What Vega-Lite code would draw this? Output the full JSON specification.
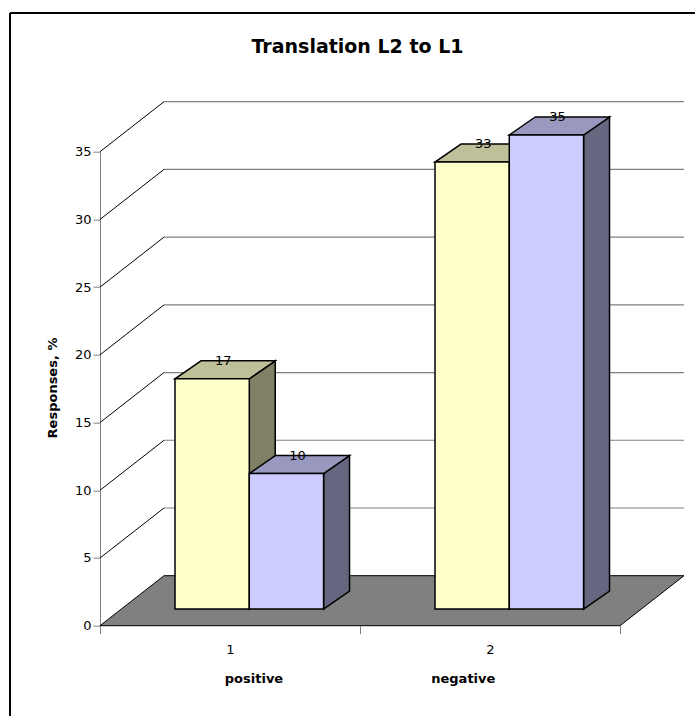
{
  "$schema": "https://vega.github.io/schema/vega-lite/v6.json",
  "width": 520,
  "height": 474,
  "autosize": {"type": "none"},
  "padding": {"left": 100, "top": 151.7, "right": 75, "bottom": 90.3},
  "background": "white",
  "config": {
    "view": {"stroke": null},
    "font": "DejaVu Sans",
    "axis": {"labelFont": "DejaVu Sans", "titleFont": "DejaVu Sans", "labelColor": "black", "titleColor": "black"}
  },
  "datasets": {
    "responses": [
      {"category": 1, "series": "Series1", "value": 17},
      {"category": 1, "series": "Series2", "value": 10},
      {"category": 2, "series": "Series1", "value": 33},
      {"category": 2, "series": "Series2", "value": 35}
    ],
    "yticks": [
      {"tick": 5}, {"tick": 10}, {"tick": 15}, {"tick": 20},
      {"tick": 25}, {"tick": 30}, {"tick": 35}
    ],
    "floor": [{"edge": "front"}, {"edge": "back"}]
  },
  "layer": [
    {
      "data": {"name": "floor"},
      "transform": [
        {"calculate": "datum.edge == 'front' ? 0 : 1", "as": "k"},
        {"calculate": "datum.k * 3.692", "as": "fy"},
        {"calculate": "0.5 + datum.k * 0.2462", "as": "fx"},
        {"calculate": "2.5 + datum.k * 0.2462", "as": "fx2"}
      ],
      "mark": {"type": "area", "orient": "horizontal", "fill": "#808080", "stroke": "black", "strokeWidth": 1},
      "encoding": {
        "y": {
          "field": "fy",
          "type": "quantitative",
          "scale": {"domain": [0, 35], "nice": false, "zero": false},
          "axis": {
            "values": [0, 5, 10, 15, 20, 25, 30, 35],
            "format": "d",
            "domain": true,
            "domainColor": "#808080",
            "domainWidth": 1,
            "grid": false,
            "tickSize": 7,
            "tickColor": "#808080",
            "tickWidth": 1,
            "labelFontSize": 13,
            "labelPadding": 2,
            "labelOverlap": false,
            "labelFlush": false,
            "title": "Responses, %",
            "titleFontSize": 13,
            "titleFontWeight": "bold",
            "titleAngle": 270,
            "titleX": -44,
            "titleY": 235.8,
            "titleAlign": "center",
            "titleBaseline": "alphabetic"
          }
        },
        "x": {
          "field": "fx",
          "type": "quantitative",
          "scale": {"domain": [0.5, 2.5], "nice": false, "zero": false},
          "axis": {
            "values": [0.5, 1, 1.5, 2, 2.5],
            "labelExpr": "datum.value == 1 ? '1' : (datum.value == 2 ? '2' : '')",
            "tickOpacity": {"condition": {"test": "datum.value == 1 || datum.value == 2", "value": 0}, "value": 1},
            "domain": false,
            "grid": false,
            "tickSize": 8,
            "tickColor": "#808080",
            "tickWidth": 1,
            "labelFontSize": 13,
            "labelPadding": 10,
            "labelOverlap": false,
            "labelFlush": false,
            "title": null
          }
        },
        "x2": {"field": "fx2"}
      }
    },
    {
      "data": {"name": "yticks"},
      "transform": [{"calculate": "datum.tick + 3.692", "as": "ty"}],
      "layer": [
        {
          "mark": {"type": "rule", "color": "black", "strokeWidth": 1},
          "encoding": {
            "x": {"datum": 0.5, "type": "quantitative"},
            "x2": {"datum": 0.7462},
            "y": {"field": "tick", "type": "quantitative"},
            "y2": {"field": "ty"}
          }
        },
        {
          "mark": {"type": "rule", "color": "#808080", "strokeWidth": 1.2},
          "encoding": {
            "x": {"datum": 0.7462, "type": "quantitative"},
            "x2": {"datum": 2.7462},
            "y": {"field": "ty", "type": "quantitative"}
          }
        }
      ]
    },
    {
      "data": {"values": [{}]},
      "layer": [
        {
          "mark": {"type": "rule", "color": "black", "strokeWidth": 2},
          "encoding": {
            "x": {"datum": 0.15385, "type": "quantitative"},
            "y": {"datum": -6.667, "type": "quantitative"},
            "y2": {"datum": 45.242}
          }
        },
        {
          "mark": {"type": "rule", "color": "black", "strokeWidth": 2},
          "encoding": {
            "x": {"datum": 0.15385, "type": "quantitative"},
            "x2": {"datum": 2.78846},
            "y": {"datum": 45.242, "type": "quantitative"}
          }
        },
        {
          "mark": {"type": "text", "text": "Translation L2 to L1", "fontWeight": "bold", "fontSize": 19, "color": "black", "align": "center", "baseline": "alphabetic"},
          "encoding": {
            "x": {"datum": 1.4904, "type": "quantitative"},
            "y": {"datum": 42.31, "type": "quantitative"}
          }
        },
        {
          "mark": {"type": "text", "text": "positive", "fontWeight": "bold", "fontSize": 13, "color": "black", "align": "center", "baseline": "alphabetic"},
          "encoding": {
            "x": {"datum": 1.0923, "type": "quantitative"},
            "y": {"datum": -4.231, "type": "quantitative"}
          }
        },
        {
          "mark": {"type": "text", "text": "negative", "fontWeight": "bold", "fontSize": 13, "color": "black", "align": "center", "baseline": "alphabetic"},
          "encoding": {
            "x": {"datum": 1.8973, "type": "quantitative"},
            "y": {"datum": -4.231, "type": "quantitative"}
          }
        }
      ]
    },
    {
      "data": {"name": "responses"},
      "transform": [
        {"calculate": "datum.category - 0.2857 + (datum.series == 'Series1' ? 0 : 0.2857)", "as": "left"},
        {"calculate": "datum.left + 0.2857", "as": "right"}
      ],
      "layer": [
        {
          "transform": [
            {"calculate": "[0, 1]", "as": "k"},
            {"flatten": ["k"]},
            {"calculate": "datum.k == 0 ? 0.0742 : 0.174", "as": "dx"},
            {"calculate": "datum.k == 0 ? 1.233 : 2.562", "as": "dy"},
            {"calculate": "datum.right + datum.dx", "as": "sx"},
            {"calculate": "datum.value + datum.dy", "as": "sy"}
          ],
          "mark": {"type": "area", "orient": "vertical", "stroke": "black", "strokeWidth": 1.5, "strokeJoin": "miter"},
          "encoding": {
            "x": {"field": "sx", "type": "quantitative"},
            "y": {"field": "sy", "type": "quantitative"},
            "y2": {"field": "dy"},
            "detail": [{"field": "category"}, {"field": "series"}],
            "fill": {"condition": {"test": "datum.series == 'Series1'", "value": "#808066"}, "value": "#666680"}
          }
        },
        {
          "transform": [
            {"calculate": "[0, 1]", "as": "k"},
            {"flatten": ["k"]},
            {"calculate": "datum.k == 0 ? 0.0742 : 0.174", "as": "dx"},
            {"calculate": "datum.k == 0 ? 1.233 : 2.562", "as": "dy"},
            {"calculate": "datum.left + datum.dx", "as": "tx"},
            {"calculate": "datum.right + datum.dx", "as": "tx2"},
            {"calculate": "datum.value + datum.dy", "as": "ty"}
          ],
          "mark": {"type": "area", "orient": "horizontal", "stroke": "black", "strokeWidth": 1.5, "strokeJoin": "miter"},
          "encoding": {
            "y": {"field": "ty", "type": "quantitative"},
            "x": {"field": "tx", "type": "quantitative"},
            "x2": {"field": "tx2"},
            "detail": [{"field": "category"}, {"field": "series"}],
            "fill": {"condition": {"test": "datum.series == 'Series1'", "value": "#BFBF99"}, "value": "#9999BF"}
          }
        },
        {
          "transform": [
            {"calculate": "datum.left + 0.0742", "as": "fl"},
            {"calculate": "datum.right + 0.0742", "as": "fr"},
            {"calculate": "datum.value + 1.233", "as": "ftop"},
            {"calculate": "1.233", "as": "fbot"}
          ],
          "mark": {"type": "rect", "stroke": "black", "strokeWidth": 1.5, "strokeJoin": "miter"},
          "encoding": {
            "x": {"field": "fl", "type": "quantitative"},
            "x2": {"field": "fr"},
            "y": {"field": "ftop", "type": "quantitative"},
            "y2": {"field": "fbot"},
            "fill": {"condition": {"test": "datum.series == 'Series1'", "value": "#FFFFCC"}, "value": "#CCCCFF"}
          }
        },
        {
          "transform": [
            {"calculate": "(datum.left + datum.right) / 2 + 0.1165", "as": "lx"},
            {"calculate": "datum.value + 2.562", "as": "ly"}
          ],
          "mark": {"type": "text", "fontSize": 13, "color": "black", "align": "center", "baseline": "middle"},
          "encoding": {
            "x": {"field": "lx", "type": "quantitative"},
            "y": {"field": "ly", "type": "quantitative"},
            "text": {"field": "value", "type": "quantitative"}
          }
        }
      ]
    }
  ]
}
